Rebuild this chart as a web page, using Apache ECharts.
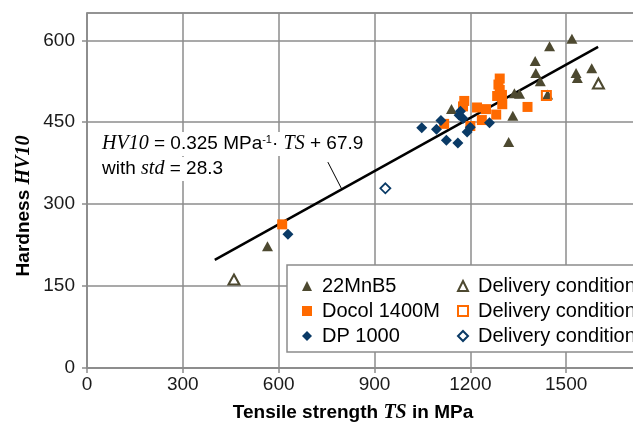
<!DOCTYPE html>
<html><head><meta charset="utf-8">
<script src="https://cdn.jsdelivr.net/npm/echarts@6/dist/echarts.min.js"></script>
<style>html,body{margin:0;padding:0;background:#fff}#c{width:633px;height:426px}</style>
</head><body><div id="c"></div><script>
// ---- data (TS in MPa, HV10) ----
const mnb5 = [[1518,603],[1448,589],[1403,562],[1405,540],[1419,525],[1580,549],[1531,540],[1535,531],
  [1338,503],[1354,502],[1442,501],[1333,462],[1320,414],[1141,474],[565,223]];
const mnb5Delivery = [[1601,521],[460,162]];
const docol = [[1292,530],[1288,519],[1292,509],[1299,500],[1284,498],[1300,483],[1379,478],[1281,464],
  [1236,454],[1181,489],[1177,479],[1221,477],[1249,474],[1200,443],[1118,447],[611,263]];
const docolDelivery = [[1438,499]];
const dp = [[1048,440],[1094,437],[1108,453],[1125,417],[1161,412],[1169,470],[1177,457],[1165,463],
  [1200,441],[1190,432],[1260,449],[629,245]];
const dpDelivery = [[934,329]];
const fitTS = [400, 1600];
const fitHV = [197.9, 587.9];
const calloutTS = [754, 798];
const calloutHV = [377, 327];
const xTicks = {min: 0, max: 1800, step: 300};
const yTicks = {min: 0, max: 650, step: 150};

const C_MNB = '#4d4930', C_DOC = '#ff6a00', C_DP = '#0a3a66';
const GRID_C = '#8c8c8c';
const SANS = '"Liberation Sans", Arial, sans-serif';
const SERIF = '"Liberation Serif", "Times New Roman", serif';

const chart = echarts.init(document.getElementById('c'), null, {renderer: 'canvas'});
const axisCommon = {
  type: 'value',
  axisLine: {show: true, lineStyle: {color: GRID_C, width: 1.5}},
  axisTick: {show: true, inside: false, length: 5, lineStyle: {color: GRID_C, width: 1.5}},
  splitLine: {show: true, lineStyle: {color: GRID_C, width: 1.5}},
  axisLabel: {color: '#1a1a1a', fontSize: 19, fontFamily: SANS, formatter: v => String(v)}
};
const open = (c, w) => ({color: '#fff', borderColor: c, borderWidth: w, opacity: 1});
chart.setOption({
  animation: false,
  grid: {left: 87, top: 13, right: -29, bottom: 58, outerBoundsMode: 'none', containLabel: false,
    show: true, borderColor: GRID_C, borderWidth: 1.5, backgroundColor: 'transparent'},
  xAxis: Object.assign({}, axisCommon, {min: xTicks.min, max: xTicks.max, interval: xTicks.step,
    axisLabel: Object.assign({}, axisCommon.axisLabel, {margin: 7})}),
  yAxis: Object.assign({}, axisCommon, {min: yTicks.min, max: yTicks.max, interval: yTicks.step,
    axisLabel: Object.assign({}, axisCommon.axisLabel, {margin: 12, showMaxLabel: false})}),
  legend: [
    {orient: 'vertical', left: 297, top: 271, itemWidth: 10, itemHeight: 10, itemGap: 5, z: 5,
     textStyle: {fontSize: 20, fontFamily: SANS, color: '#000', lineHeight: 20, padding: [0,0,0,5]},
     data: ['22MnB5', 'Docol 1400M', 'DP 1000']},
    {orient: 'vertical', left: 452, top: 271, itemWidth: 10, itemHeight: 10, itemGap: 5, z: 5,
     textStyle: {fontSize: 20, fontFamily: SANS, color: '#000', lineHeight: 20, padding: [0,0,0,5]},
     formatter: () => 'Delivery condition',
     data: ['Delivery condition 1', 'Delivery condition 2', 'Delivery condition 3']}
  ],
  series: [
    {type: 'line', name: 'fit', data: fitTS.map((t, i) => [t, fitHV[i]]), symbol: 'none', z: 1,
     lineStyle: {color: '#000', width: 2.5}},
    {type: 'line', name: 'callout', data: calloutTS.map((t, i) => [t, calloutHV[i]]), symbol: 'none', z: 1,
     lineStyle: {color: '#000', width: 1}},
    {type: 'scatter', name: '22MnB5', data: mnb5, symbol: 'triangle', symbolSize: [11, 10], itemStyle: {color: C_MNB, opacity: 1}},
    {type: 'scatter', name: 'Delivery condition 1', data: mnb5Delivery, symbol: 'triangle', symbolSize: [11, 10], itemStyle: open(C_MNB, 2)},
    {type: 'scatter', name: 'Docol 1400M', data: docol, symbol: 'rect', symbolSize: 10, itemStyle: {color: C_DOC, opacity: 1}},
    {type: 'scatter', name: 'Delivery condition 2', data: docolDelivery, symbol: 'rect', symbolSize: 9, itemStyle: Object.assign(open(C_DOC, 2), {color: 'transparent'})},
    {type: 'scatter', name: 'DP 1000', data: dp, symbol: 'diamond', symbolSize: 11, itemStyle: {color: C_DP, opacity: 1}},
    {type: 'scatter', name: 'Delivery condition 3', data: dpDelivery, symbol: 'diamond', symbolSize: 10, itemStyle: open(C_DP, 1.8)}
  ],
  graphic: [
    {type: 'rect', z: 3, shape: {x: 287, y: 265, width: 420, height: 87},
     style: {fill: '#fff', stroke: GRID_C, lineWidth: 1.5}},
    {type: 'text', z: 3, x: 100, y: 144,
     style: {text: '{i|HV10} = 0.325 MPa{s|-1}· {i|TS} + 67.9', fontSize: 19, fontFamily: SANS, fill: '#000',
       verticalAlign: 'middle', backgroundColor: '#fff', padding: [2, 2, 2, 2],
       rich: {i: {fontFamily: SERIF, fontStyle: 'italic', fontSize: 20, fill: '#000'},
              s: {fontSize: 11, verticalAlign: 'top', fill: '#000'}}}},
    {type: 'text', z: 3, x: 100, y: 169,
     style: {text: 'with {i|std} = 28.3', fontSize: 19, fontFamily: SANS, fill: '#000',
       verticalAlign: 'middle', backgroundColor: '#fff', padding: [2, 2, 2, 2],
       rich: {i: {fontFamily: SERIF, fontStyle: 'italic', fontSize: 20, fill: '#000'}}}},
    {type: 'text', x: 353, y: 413,
     style: {text: 'Tensile strength {i|TS} in MPa', fontSize: 19, fontWeight: 'bold', fontFamily: SANS, fill: '#000',
       align: 'center', verticalAlign: 'middle',
       rich: {i: {fontFamily: SERIF, fontStyle: 'italic', fontWeight: 'bold', fontSize: 20, fill: '#000'}}}},
    {type: 'text', x: 24, y: 206, rotation: Math.PI / 2,
     style: {text: 'Hardness {i|HV10}', fontSize: 19, fontWeight: 'bold', fontFamily: SANS, fill: '#000',
       align: 'center', verticalAlign: 'middle',
       rich: {i: {fontFamily: SERIF, fontStyle: 'italic', fontWeight: 'bold', fontSize: 20, fill: '#000'}}}}
  ]
});
</script></body></html>
